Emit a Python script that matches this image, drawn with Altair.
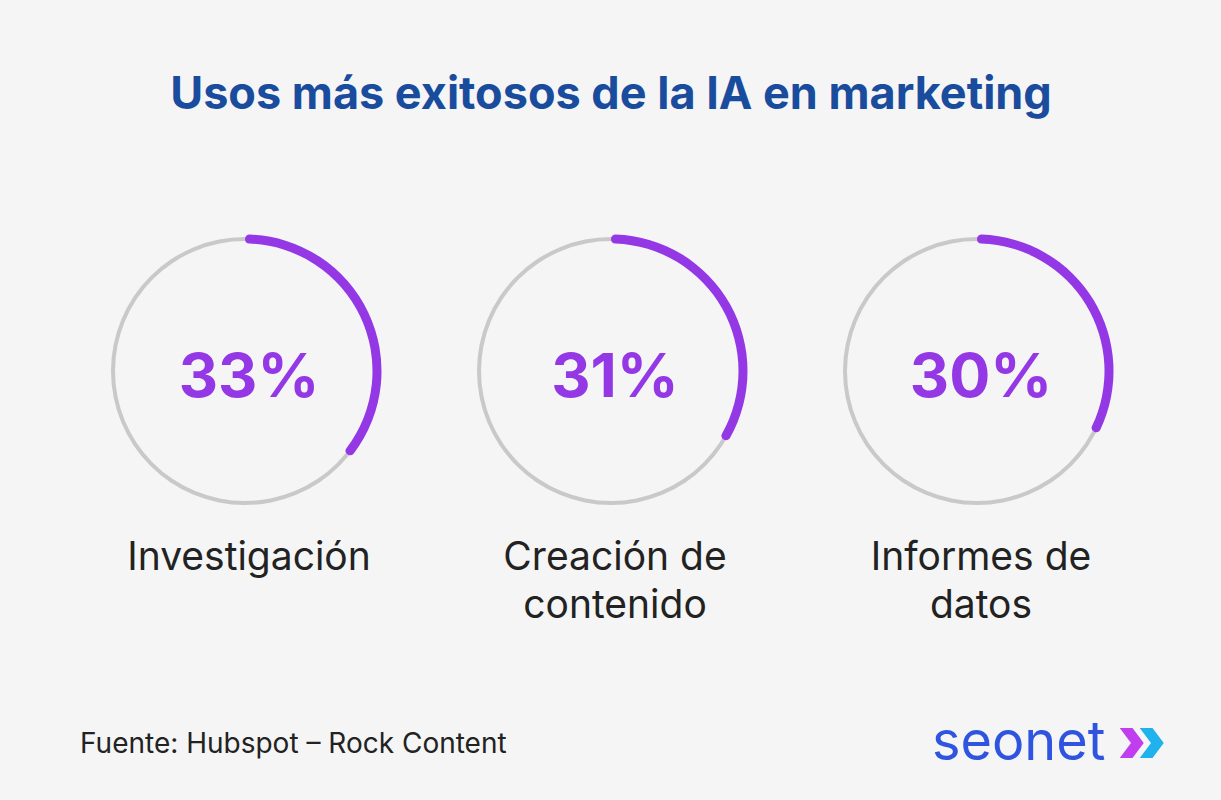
import math
import altair as alt
import pandas as pd

# ---- data ----
categories = ["Investigación", "Creación de contenido", "Informes de datos"]
label_lines = ["Investigación", "Creación de\ncontenido", "Informes de\ndatos"]
values = [33, 31, 30]
value_labels = ["33%", "31%", "30%"]

title_text = "Usos más exitosos de la IA en marketing"
source_text = "Fuente: Hubspot – Rock Content"
logo_text = "seonet"

df = pd.DataFrame({
    "cat": categories,
    "label": label_lines,
    "value": values,
    "pct": value_labels,
    "start": [0] * len(values),
})

W, H = 1221, 800
BG = "#f5f5f5"
PURPLE = "#9438e6"
GRAY = "#c9c9c9"
BLUE = "#1a4c9e"
DARK = "#222222"
CY = 371

xscale = alt.Scale(type="point", domain=categories, range=[245, 977], padding=0)
X = alt.X("cat:N", scale=xscale, axis=None)
theta_scale = alt.Scale(domain=[0, 92], range=[0, 2 * math.pi])

base = alt.Chart(df)

ring = base.mark_arc(theta=0, theta2=2 * math.pi, radius=134, radius2=130, color=GRAY).encode(
    x=X, y=alt.value(CY)
)

arc = base.mark_arc(radius=136.5, radius2=127.5, cornerRadius=4.5, color=PURPLE).encode(
    x=X,
    y=alt.value(CY),
    theta=alt.Theta("start:Q", scale=theta_scale, stack=False),
    theta2="value:Q",
)

pct = base.mark_text(font="Inter", fontSize=61, fontWeight=700, color=PURPLE,
                     baseline="alphabetic", align="center", dx=4).encode(
    x=X, y=alt.value(397), text="pct:N"
)

labels = base.mark_text(font="Inter", fontSize=39, fontWeight=400, color=DARK,
                        baseline="alphabetic", align="center", lineBreak="\n",
                        lineHeight=48, dx=4).encode(
    x=X, y=alt.value(570), text="label:N"
)

one = alt.Chart(pd.DataFrame({"t": [title_text]}))
title = one.mark_text(font="Inter", fontSize=45, fontWeight=700, color=BLUE,
                      baseline="alphabetic", align="center").encode(
    x=alt.value(611), y=alt.value(109), text="t:N"
)

src = alt.Chart(pd.DataFrame({"t": [source_text]})).mark_text(
    font="Inter", fontSize=28, fontWeight=400, color=DARK, baseline="alphabetic", align="left"
).encode(x=alt.value(80), y=alt.value(753), text="t:N")

logo = alt.Chart(pd.DataFrame({"t": [logo_text]})).mark_text(
    font="Inter", fontSize=54, fontWeight=400, color="#2f55e0", baseline="alphabetic", align="left"
).encode(x=alt.value(932), y=alt.value(760), text="t:N")

chev_path = "M -0.75 -1 L 0.1 -1 L 0.85 0 L 0.1 1 L -0.75 1 L 0 0 Z"
chev1 = alt.Chart(pd.DataFrame({"t": [1]})).mark_point(
    shape=chev_path, size=900, filled=True, fill="#c03ef0", opacity=1, strokeWidth=0
).encode(x=alt.value(1131), y=alt.value(743))
chev2 = alt.Chart(pd.DataFrame({"t": [1]})).mark_point(
    shape=chev_path, size=900, filled=True, fill="#1fb2ec", opacity=1, strokeWidth=0
).encode(x=alt.value(1151), y=alt.value(743))

chart = alt.layer(ring, arc, pct, labels, title, src, logo, chev1, chev2).properties(
    width=W, height=H, background=BG, padding=0, autosize=alt.AutoSizeParams(type="none")
).configure_view(stroke=None)

chart.save("out.html", embed_options={"renderer": "svg", "actions": False})
